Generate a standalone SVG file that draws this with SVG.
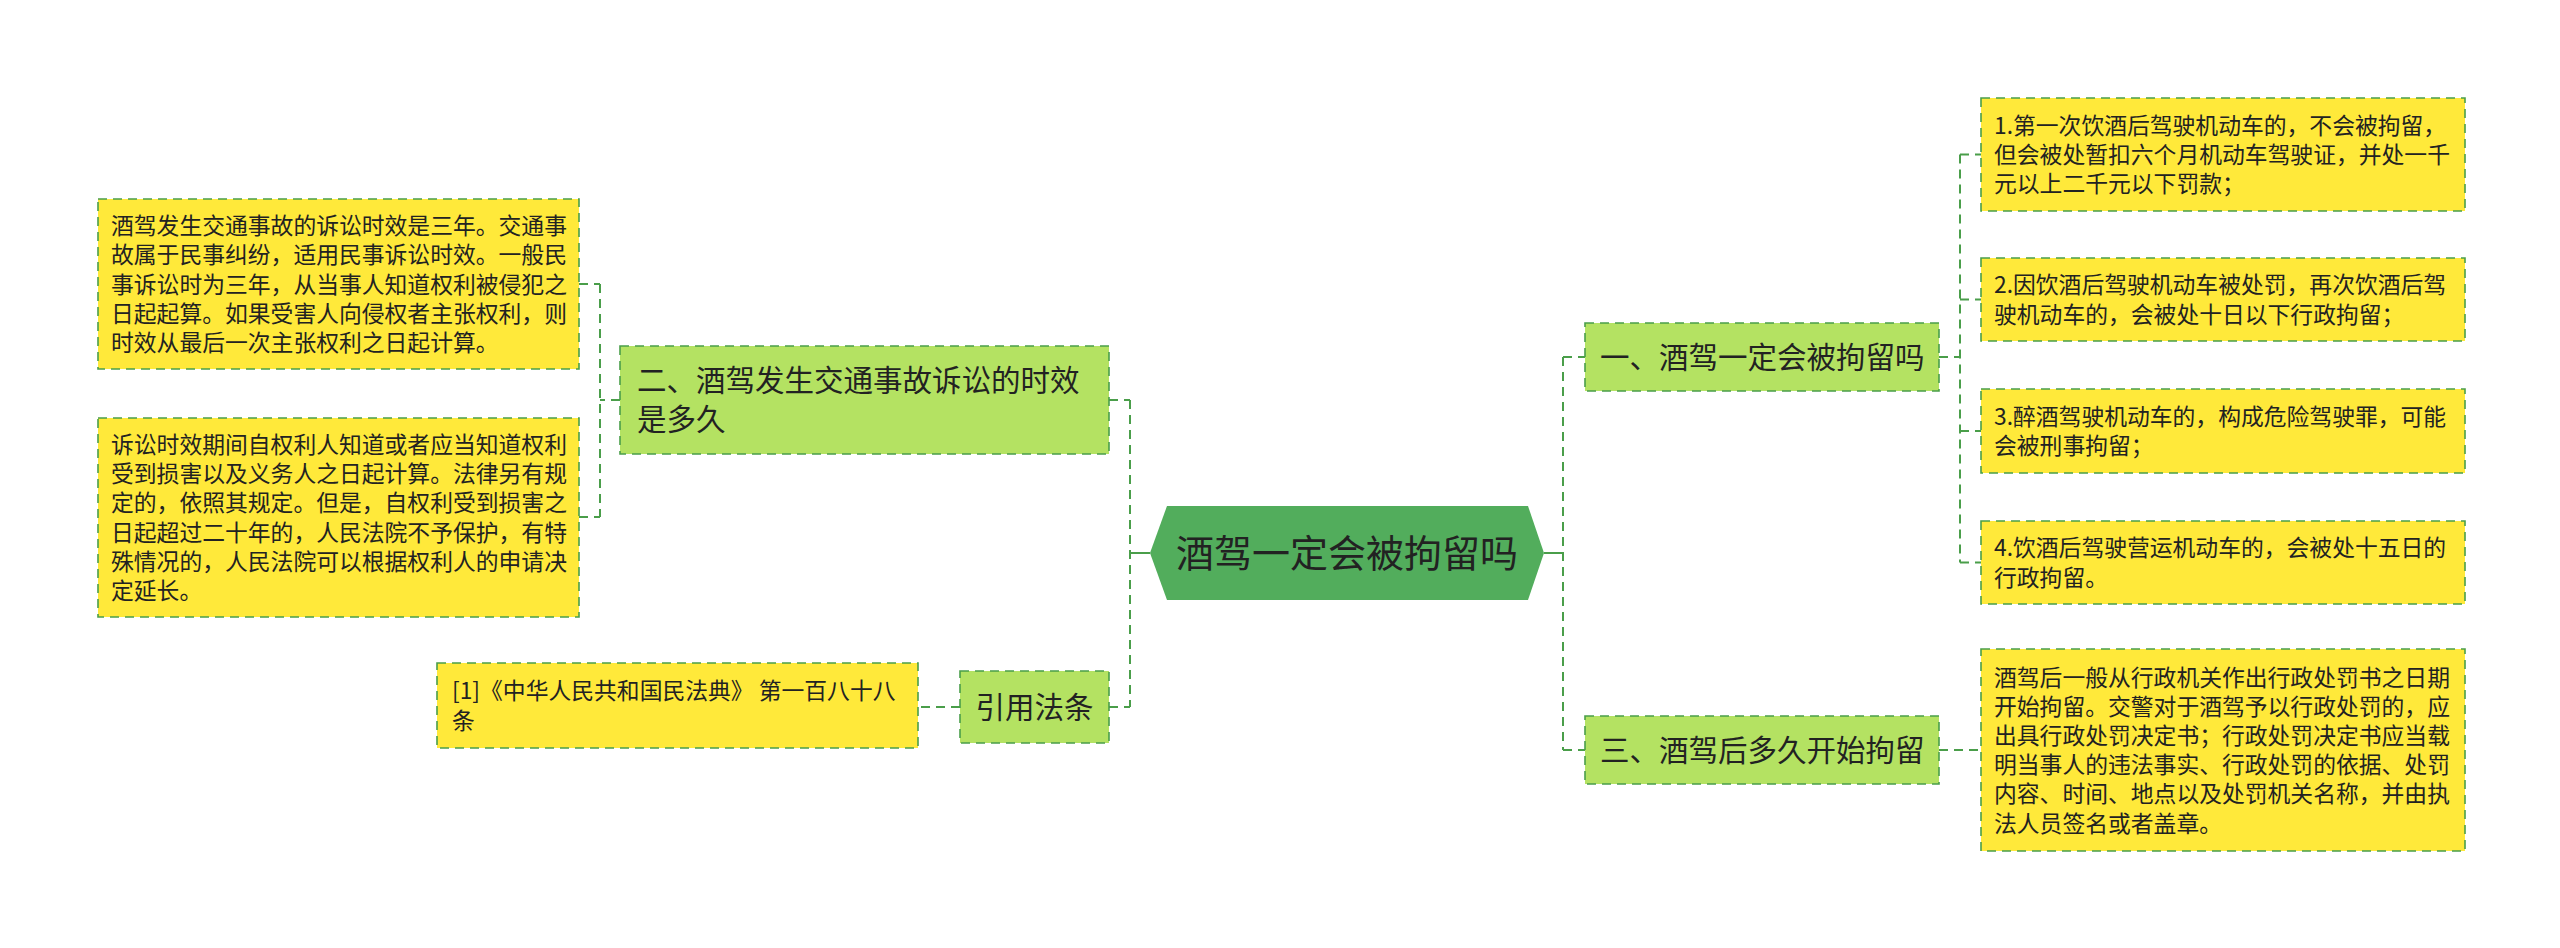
<svg xmlns="http://www.w3.org/2000/svg" width="2560" height="948" viewBox="0 0 2560 948">
<style>
text{font-family:"Noto Sans CJK SC","Noto Sans",sans-serif;fill:#222}
.leaf{fill:#ffe93a;stroke:#4a9e4a;stroke-width:1.6;stroke-dasharray:9 6}
.sub{fill:#b4e262;stroke:#4a9e4a;stroke-width:1.6;stroke-dasharray:9 6}
.t1{font-size:22.8px}
.t2{font-size:29.5px}
.t3{font-size:38px}
.c{fill:none;stroke:#4a9e4a;stroke-width:2;stroke-dasharray:9 6}
.s{fill:none;stroke:#4a9e4a;stroke-width:2}
</style>
<rect width="2560" height="948" fill="#ffffff"/>
<g id="connectors">
<path class="s" d="M1150 553H1130M1544 553H1563"/>
<path class="c" d="M1130 400V707M1109 400H1130M1109 707H1130"/>
<path class="c" d="M620 400H600M600 284V517M579 284H600M579 517H600"/>
<path class="c" d="M960 707H918"/>
<path class="c" d="M1563 357V750M1563 357H1585M1563 750H1585"/>
<path class="c" d="M1939 357H1960M1960 154.5V562.5M1960 154.5H1981M1960 299.5H1981M1960 431H1981M1960 562.5H1981"/>
<path class="c" d="M1939 750H1981"/>
</g>
<g id="root">
<polygon points="1167,506 1528,506 1544,553 1528,600 1167,600 1150,553" fill="#52ad5c"/>
<text class="t3" x="1347" y="567" text-anchor="middle">酒驾一定会被拘留吗</text>
</g>
<g id="n2">
<rect class="sub" x="620" y="346" width="489" height="108"/>
<text class="t2" x="637" y="391">二、酒驾发生交通事故诉讼的时效</text>
<text class="t2" x="637" y="430">是多久</text>
</g>
<g id="n2a">
<rect class="leaf" x="98" y="199" width="481" height="170"/>
<text class="t1" x="111" y="234">酒驾发生交通事故的诉讼时效是三年。交通事</text>
<text class="t1" x="111" y="263.3">故属于民事纠纷，适用民事诉讼时效。一般民</text>
<text class="t1" x="111" y="292.5">事诉讼时为三年，从当事人知道权利被侵犯之</text>
<text class="t1" x="111" y="321.7">日起起算。如果受害人向侵权者主张权利，则</text>
<text class="t1" x="111" y="351">时效从最后一次主张权利之日起计算。</text>
</g>
<g id="n2b">
<rect class="leaf" x="98" y="418" width="481" height="199"/>
<text class="t1" x="111" y="453">诉讼时效期间自权利人知道或者应当知道权利</text>
<text class="t1" x="111" y="482.2">受到损害以及义务人之日起计算。法律另有规</text>
<text class="t1" x="111" y="511.4">定的，依照其规定。但是，自权利受到损害之</text>
<text class="t1" x="111" y="540.6">日起超过二十年的，人民法院不予保护，有特</text>
<text class="t1" x="111" y="569.8">殊情况的，人民法院可以根据权利人的申请决</text>
<text class="t1" x="111" y="599">定延长。</text>
</g>
<g id="nref">
<rect class="sub" x="960" y="671" width="149" height="72"/>
<text class="t2" x="1034.5" y="718" text-anchor="middle">引用法条</text>
</g>
<g id="nrefa">
<rect class="leaf" x="437" y="663" width="481" height="85"/>
<text class="t1" x="452" y="699.4">[1]《中华人民共和国民法典》 第一百八十八</text>
<text class="t1" x="452" y="728.6">条</text>
</g>
<g id="n1">
<rect class="sub" x="1585" y="323" width="354" height="68"/>
<text class="t2" x="1600" y="368">一、酒驾一定会被拘留吗</text>
</g>
<g id="n1a">
<rect class="leaf" x="1981" y="98" width="484" height="113"/>
<text class="t1" x="1994" y="133.8">1.第一次饮酒后驾驶机动车的，不会被拘留，</text>
<text class="t1" x="1994" y="163">但会被处暂扣六个月机动车驾驶证，并处一千</text>
<text class="t1" x="1994" y="192.2">元以上二千元以下罚款；</text>
</g>
<g id="n1b">
<rect class="leaf" x="1981" y="258" width="484" height="83"/>
<text class="t1" x="1994" y="293.4">2.因饮酒后驾驶机动车被处罚，再次饮酒后驾</text>
<text class="t1" x="1994" y="322.6">驶机动车的，会被处十日以下行政拘留；</text>
</g>
<g id="n1c">
<rect class="leaf" x="1981" y="389" width="484" height="84"/>
<text class="t1" x="1994" y="424.9">3.醉酒驾驶机动车的，构成危险驾驶罪，可能</text>
<text class="t1" x="1994" y="454.1">会被刑事拘留；</text>
</g>
<g id="n1d">
<rect class="leaf" x="1981" y="521" width="484" height="83"/>
<text class="t1" x="1994" y="556.4">4.饮酒后驾驶营运机动车的，会被处十五日的</text>
<text class="t1" x="1994" y="585.6">行政拘留。</text>
</g>
<g id="n3">
<rect class="sub" x="1585" y="716" width="354" height="68"/>
<text class="t2" x="1600" y="761">三、酒驾后多久开始拘留</text>
</g>
<g id="n3a">
<rect class="leaf" x="1981" y="649" width="484" height="202"/>
<text class="t1" x="1994" y="685.5">酒驾后一般从行政机关作出行政处罚书之日期</text>
<text class="t1" x="1994" y="714.7">开始拘留。交警对于酒驾予以行政处罚的，应</text>
<text class="t1" x="1994" y="743.9">出具行政处罚决定书；行政处罚决定书应当载</text>
<text class="t1" x="1994" y="773.1">明当事人的违法事实、行政处罚的依据、处罚</text>
<text class="t1" x="1994" y="802.3">内容、时间、地点以及处罚机关名称，并由执</text>
<text class="t1" x="1994" y="831.5">法人员签名或者盖章。</text>
</g>
</svg>
